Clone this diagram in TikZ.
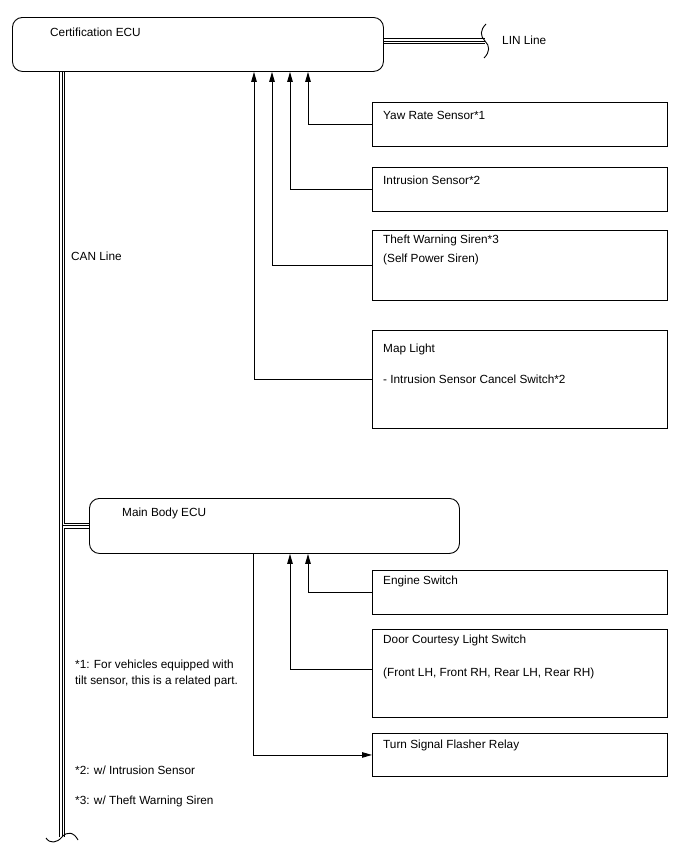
\documentclass[tikz,border=0pt]{standalone}
\usepackage{fontspec}
\setmainfont{Liberation Sans}
\usepackage{tikz}
\usetikzlibrary{arrows.meta, calc}

\begin{document}
\begin{tikzpicture}[x=1pt, y=-1pt,
  every node/.style={font=\fontsize{11.8}{14}\selectfont},
  ecu/.style={draw, line width=0.9pt, rounded corners=10pt, anchor=north west, inner sep=0pt},
  part/.style={draw, line width=0.9pt, anchor=north west, inner sep=0pt, minimum width=295pt},
  txt/.style={anchor=west, inner sep=0pt, text height=8pt, text depth=2pt},
  arr/.style={-{Triangle[length=10pt,width=5.5pt]}, line width=0.9pt},
  bus/.style={line width=6.6pt, postaction={draw=white, line width=4.4pt}, postaction={draw=black, line width=1pt}},
]
  \useasboundingbox (0,0) rectangle (688,852);

  \node[ecu, minimum width=371pt, minimum height=54pt] (cert) at (12,17) {};
  \node[ecu, minimum width=370pt, minimum height=55pt] (body) at (89,498) {};

  \node[part, minimum height=44pt] (yaw) at (372,102) {};
  \node[part, minimum height=44pt] (intr) at (372,167) {};
  \node[part, minimum height=70pt] (siren) at (372,230) {};
  \node[part, minimum height=98pt] (map) at (372,330) {};
  \node[part, minimum height=44pt] (eng) at (372,570) {};
  \node[part, minimum height=88pt] (door) at (372,629) {};
  \node[part, minimum height=43pt] (relay) at (372,733) {};

  \node[txt] (certlbl) at (50,33) {Certification ECU};
  \node[txt] (bodylbl) at (122,513) {Main Body ECU};
  \node[txt] (yawlbl) at (383,116) {Yaw Rate Sensor*1};
  \node[txt] (intrlbl) at (383,181) {Intrusion Sensor*2};
  \node[txt] (sirenlbl) at (383,240) {Theft Warning Siren*3};
  \node[txt] (sirenlbl2) at (383,259) {(Self Power Siren)};
  \node[txt] (maplbl) at (383,349) {Map Light};
  \node[txt] (maplbl2) at (383,380) {- Intrusion Sensor Cancel Switch*2};
  \node[txt] (englbl) at (383,581) {Engine Switch};
  \node[txt] (doorlbl) at (383,640) {Door Courtesy Light Switch};
  \node[txt] (doorlbl2) at (383,673) {(Front LH, Front RH, Rear LH, Rear RH)};
  \node[txt] (relaylbl) at (383,745) {Turn Signal Flasher Relay};
  \node[txt] (lin) at (502,41) {LIN Line};
  \node[txt] (can) at (71,257) {CAN Line};
  \node[txt] (note1) at (75,665) {*1: For vehicles equipped with};
  \node[txt] (note1b) at (75,681) {tilt sensor, this is a related part.};
  \node[txt] (note2) at (75,771) {*2: w/ Intrusion Sensor};
  \node[txt] (note3) at (75,801) {*3: w/ Theft Warning Siren};

  \coordinate (canend) at (62,837);
  \coordinate (linend) at (485,41);

  \draw[bus] ($(cert.south west)+(50,0)$) -- (canend)
    (canend |- body.west) -- (body.west);
  \draw[bus] (cert.east |- linend) -- (linend);
  \draw[line width=0.9pt] (46,838) .. controls (50,844) and (57,843) .. (canend)
    .. controls (67,831) and (74,832) .. (78,840);
  \draw[line width=0.9pt] (486,24) .. controls (480,30) and (480,36) .. (linend)
    .. controls (490,46) and (490,52) .. (484,58);

  \draw[arr] (yaw.west) -| ($(cert.south west)+(296,0)$);
  \draw[arr] (intr.west) -| ($(cert.south west)+(278,0)$);
  \draw[arr] (siren.west) -| ($(cert.south west)+(260,0)$);
  \draw[arr] (map.west) -| ($(cert.south west)+(242,0)$);
  \draw[arr] (eng.west) -| ($(body.south west)+(219,0)$);
  \draw[arr] ([yshift=4pt]door.west) -| ($(body.south west)+(201,0)$);
  \draw[arr] ($(body.south west)+(164,0)$) |- (relay.west);
\end{tikzpicture}
\end{document}
